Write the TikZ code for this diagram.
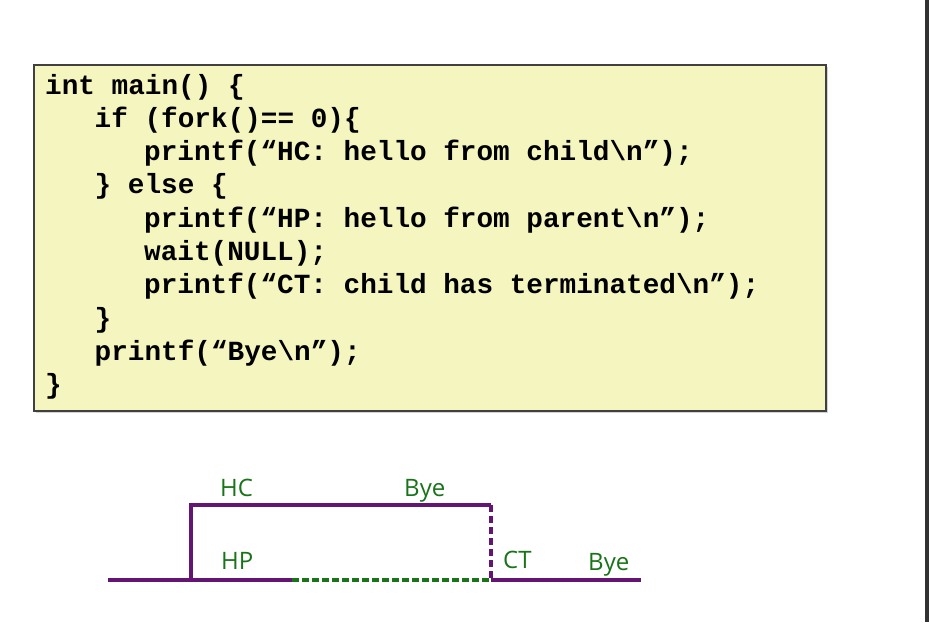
\documentclass[tikz,border=0pt]{standalone}
\usepackage{fontspec}
\setmainfont{Open Sans}
\newfontfamily\codefont{Liberation Mono}[BoldFont={Liberation Mono Bold}]
\definecolor{codebg}{RGB}{245,245,192}
\definecolor{codeframe}{RGB}{64,64,64}
\definecolor{proc}{RGB}{100,20,115}
\definecolor{lbl}{RGB}{25,115,25}
\definecolor{edgebar}{RGB}{50,50,50}
\tikzset{
  codeline/.style={anchor=base west, inner sep=0pt, font=\codefont\bfseries\fontsize{27.7}{33}\selectfont},
  lab/.style={anchor=base west, inner sep=0pt, text=lbl, font=\fontsize{24}{28}\selectfont},
  solidproc/.style={draw=proc, line width=3.3pt},
  dashproc/.style={draw=proc, line width=3.3pt, dash pattern=on 7pt off 4pt},
  dashgreen/.style={draw=lbl, line width=3.3pt, dash pattern=on 7pt off 3pt},
}
\begin{document}
\begin{tikzpicture}[x=1pt,y=-1pt]
\useasboundingbox (0,0) rectangle (929,622);
\fill[white] (0,0) rectangle (929,622);
\fill[edgebar] (925,0) rectangle (929,622);
% code box
\fill[gray!35] (35.5,66.5) rectangle (827.5,412.5);
\node[draw=codeframe, fill=codebg, line width=2pt, inner sep=0pt, anchor=north west,
      minimum width=792pt, minimum height=346pt] (box) at (33,64) {};
\node[codeline] (l1) at (45,94) {int main() \{};
\node[codeline] (l2) at (94.5,127.3) {if (fork()== 0)\{};
\node[codeline] (l3) at (144,160.6) {printf(“HC: hello from child\textbackslash n”);};
\node[codeline] (l4) at (94.5,193.9) {\} else \{};
\node[codeline] (l5) at (144,227.2) {printf(“HP: hello from parent\textbackslash n”);};
\node[codeline] (l6) at (144,260.5) {wait(NULL);};
\node[codeline] (l7) at (144,293.8) {printf(“CT: child has terminated\textbackslash n”);};
\node[codeline] (l8) at (94.5,327.1) {\}};
\node[codeline] (l9) at (94.5,360.4) {printf(“Bye\textbackslash n”);};
\node[codeline] (l10) at (45,393.7) {\}};
% timeline
\coordinate (a) at (108,580);
\coordinate (b) at (191,580);
\coordinate (c) at (191,505);
\coordinate (d) at (491,505);
\coordinate (e) at (491,580);
\coordinate (g) at (292,580);
\coordinate (f) at (641,580);
\draw[solidproc] (a) -- (b) -- (c) -- (d);
\draw[dashproc] (d) -- (e);
\draw[solidproc] (b) -- (g);
\draw[dashgreen] (g) -- (e);
\draw[solidproc] (e) -- (f);
\node[lab] (hc) at (220,496) {HC};
\node[lab] (bye1) at (404,496) {Bye};
\node[lab] (hp) at (221,569) {HP};
\node[lab] (ct) at (503,568) {CT};
\node[lab] (bye2) at (588,570) {Bye};
\end{tikzpicture}
\end{document}
